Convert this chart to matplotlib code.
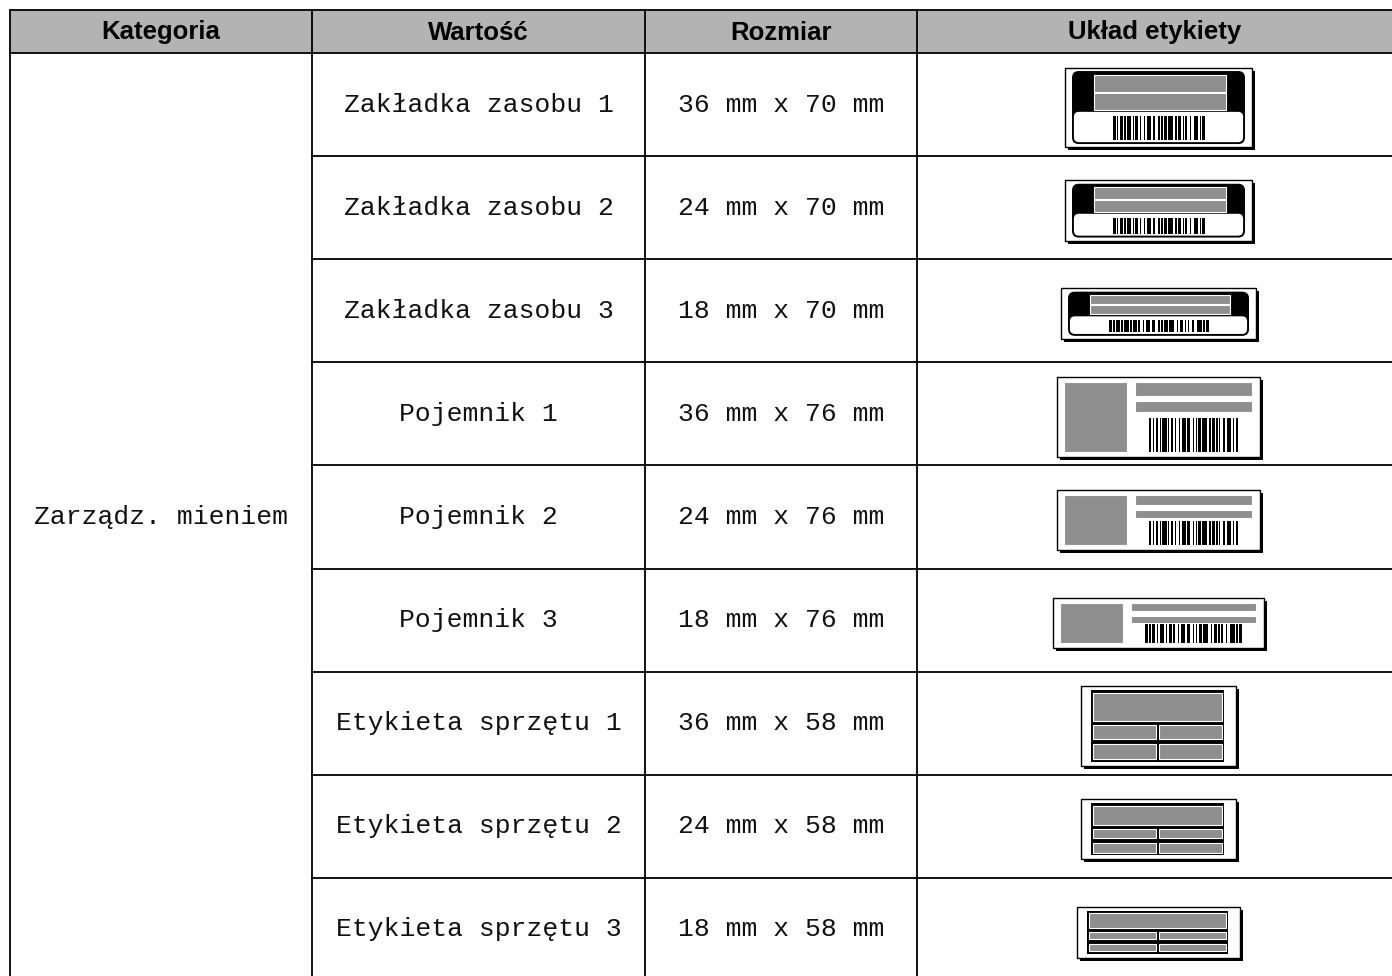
import matplotlib.pyplot as plt
from matplotlib.patches import Rectangle, FancyBboxPatch

headers = ["Kategoria", "Wartość", "Rozmiar", "Układ etykiety"]
category = "Zarządz. mieniem"
values = ["Zakładka zasobu 1", "Zakładka zasobu 2", "Zakładka zasobu 3",
          "Pojemnik 1", "Pojemnik 2", "Pojemnik 3",
          "Etykieta sprzętu 1", "Etykieta sprzętu 2", "Etykieta sprzętu 3"]
tape_w = [36, 24, 18, 36, 24, 18, 36, 24, 18]
tape_l = [70, 70, 70, 76, 76, 76, 58, 58, 58]
kinds = ["asset"] * 3 + ["box"] * 3 + ["equip"] * 3
sizes = ["%d mm x %d mm" % (w, l) for w, l in zip(tape_w, tape_l)]

# layout (pixels)
col_x = [10, 312, 645, 917, 1392]
head_top, head_bot = 10, 53
row_h = 103.1
GRAY = "#8e8e8e"
bars = [2, 1, 1, 1, 2, 1, 1, 1, 3, 1, 1, 1, 2, 1, 1, 2, 1, 1, 3, 1, 2, 2, 1, 1, 1, 1,
        2, 1, 3, 2, 1, 1, 2, 1, 1, 1, 1, 2, 1, 2, 3, 1, 1, 1, 2]

fig = plt.figure(figsize=(13.92, 9.76), dpi=100)
ax = fig.add_axes([0, 0, 1, 1])
ax.set_xlim(0, 1392)
ax.set_ylim(976, 0)
ax.axis("off")


def barcode(x0, x1, y0, y1):
    total = sum(bars)
    u = (x1 - x0) / total
    x = x0
    for i, b in enumerate(bars):
        if i % 2 == 0:
            ax.add_patch(Rectangle((x, y0), b * u, y1 - y0, color="black", lw=0, zorder=3))
        x += b * u


def gray(x0, x1, y0, y1):
    ax.add_patch(Rectangle((x0, y0), x1 - x0, y1 - y0, facecolor=GRAY,
                           edgecolor="white", lw=0.8, zorder=3))


def frame(x0, y0, W, H):
    ax.add_patch(Rectangle((x0 + 3, y0 + 3), W, H, color="black", lw=0))
    ax.add_patch(Rectangle((x0, y0), W, H, facecolor="white", edgecolor="black", lw=1))


def asset(x0, y0, W, H):
    frame(x0, y0, W, H)
    ix0, ix1 = x0 + 8, x0 + W - 8
    iy0, iy1 = y0 + 4, y0 + H - 4
    ih = iy1 - iy0
    ax.add_patch(FancyBboxPatch((ix0, iy0), ix1 - ix0, ih, boxstyle="round,pad=0,rounding_size=6",
                                facecolor="black", edgecolor="black", lw=1))
    mid = iy0 + ih * 0.56
    ax.add_patch(FancyBboxPatch((ix0 + 1.2, mid), ix1 - ix0 - 2.4, iy1 - mid - 1.2,
                                boxstyle="round,pad=0,rounding_size=5", facecolor="white", lw=0))
    gx0, gx1 = ix0 + 21, ix1 - 18
    bh = (mid - iy0 - 6) / 2
    gray(gx0, gx1, iy0 + 3, iy0 + 3 + bh)
    gray(gx0, gx1, iy0 + 4 + bh, mid - 2)
    barcode(x0 + 48, x0 + W - 47, mid + 4, iy1 - 3)


def box(x0, y0, W, H):
    frame(x0, y0, W, H)
    gray(x0 + 7, x0 + 70, y0 + 5, y0 + H - 5)
    gray(x0 + 78, x0 + W - 8, y0 + 5, y0 + 5 + H * 0.17)
    gray(x0 + 78, x0 + W - 8, y0 + 8 + H * 0.2, y0 + 8 + H * 0.34)
    barcode(x0 + 92, x0 + W - 22, y0 + H * 0.52, y0 + H - 5)


def equip(x0, y0, W, H):
    frame(x0, y0, W, H)
    fx0, fx1 = x0 + 10, x0 + W - 12
    fy0, fy1 = y0 + 4, y0 + H - 4
    ax.add_patch(Rectangle((fx0, fy0), fx1 - fx0, fy1 - fy0, facecolor="black", lw=0))
    fh = fy1 - fy0
    ys = [fy0, fy0 + fh * 0.45, fy0 + fh * 0.72, fy1]
    xm = (fx0 + fx1) / 2
    gray(fx0 + 2.5, fx1 - 2.5, ys[0] + 2.5, ys[1] - 2)
    for a, b in [(ys[1], ys[2]), (ys[2], ys[3])]:
        gray(fx0 + 2.5, xm - 1.5, a + 2, b - 2.5)
        gray(xm + 1.5, fx1 - 2.5, a + 2, b - 2.5)


draw = {"asset": asset, "box": box, "equip": equip}

# header
ax.add_patch(Rectangle((col_x[0], head_top), col_x[-1] - col_x[0], head_bot - head_top,
                       facecolor="#b3b3b3", lw=0))
for i, h in enumerate(headers):
    ax.text((col_x[i] + col_x[i + 1]) / 2, (head_top + head_bot) / 2 + 1, h,
            ha="center", va="center", fontsize=18.5, fontweight="bold", family="Liberation Sans")

n = len(values)
row_y = [head_bot + i * row_h for i in range(n + 1)]
for i in range(n):
    yc = (row_y[i] + row_y[i + 1]) / 2
    ax.text((col_x[1] + col_x[2]) / 2, yc, values[i], ha="center", va="center",
            fontsize=19, family="Liberation Mono", color="#111111")
    ax.text((col_x[2] + col_x[3]) / 2, yc, sizes[i], ha="center", va="center",
            fontsize=19, family="Liberation Mono", color="#111111")
    W = 2.68 * tape_l[i] + (8 if tape_w[i] == 18 else 0)
    H = 22 + 1.6 * tape_w[i]
    cx = (col_x[3] + col_x[4]) / 2 + 4
    draw[kinds[i]](cx - W / 2, yc - H / 2 + 3, W, H)

ax.text((col_x[0] + col_x[1]) / 2, (row_y[0] + row_y[-1]) / 2, category,
        ha="center", va="center", fontsize=19, family="Liberation Mono", color="#111111")

# grid lines
lw = 1.3
ax.plot([col_x[0], col_x[-1]], [head_top, head_top], color="black", lw=lw)
ax.plot([col_x[0], col_x[-1]], [head_bot, head_bot], color="black", lw=lw)
for y in row_y[1:-1]:
    ax.plot([col_x[1], col_x[-1]], [y, y], color="black", lw=lw)
for x in col_x[:-1]:
    ax.plot([x, x], [head_top, 976], color="black", lw=lw)

fig.savefig("out.png", dpi=100)
